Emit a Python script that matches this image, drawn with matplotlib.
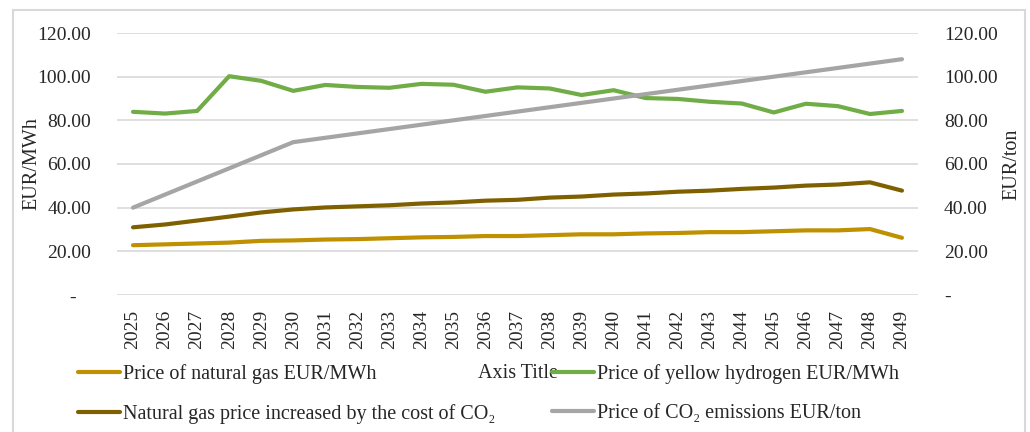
import matplotlib
matplotlib.use("Agg")
import matplotlib.pyplot as plt
from matplotlib.patches import Rectangle
import numpy as np

# --- data ---
years = [str(y) for y in range(2025, 2050)]

gas_price = [22.8, 23.2, 23.6, 24.0, 24.8, 25.0, 25.4, 25.6, 26.0, 26.4, 26.6, 27.0, 27.0,
             27.4, 27.8, 27.8, 28.2, 28.4, 28.8, 28.8, 29.2, 29.6, 29.6, 30.2, 26.2]
hydrogen_price = [83.9, 83.1, 84.3, 100.2, 98.1, 93.5, 96.2, 95.3, 94.9, 96.7, 96.3, 93.1, 95.1,
                  94.6, 91.6, 93.8, 90.2, 89.8, 88.5, 87.7, 83.6, 87.6, 86.5, 82.9, 84.3]
gas_with_co2 = [31.0, 32.3, 34.1, 35.9, 37.8, 39.2, 40.1, 40.6, 41.1, 41.9, 42.4, 43.2, 43.6,
                44.6, 45.1, 46.0, 46.5, 47.3, 47.8, 48.6, 49.2, 50.1, 50.6, 51.6, 47.8]
co2_price = [40, 46, 52, 58, 64, 70, 72, 74, 76, 78, 80, 82, 84,
             86, 88, 90, 92, 94, 96, 98, 100, 102, 104, 106, 108]

y_ticks = [0, 20, 40, 60, 80, 100, 120]
left_tick_labels = ["-   ", "20.00", "40.00", "60.00", "80.00", "100.00", "120.00"]
right_tick_labels = ["-", "20.00", "40.00", "60.00", "80.00", "100.00", "120.00"]

label_gas = "Price of natural gas EUR/MWh"
label_h2 = "Price of yellow hydrogen EUR/MWh"
label_gas_co2 = "Natural gas price increased by the cost of CO\u2082"
label_co2 = "Price of CO\u2082 emissions EUR/ton"

c_gas = "#BF9000"
c_h2 = "#70AD47"
c_gas_co2 = "#7F6000"
c_co2 = "#A5A5A5"
txt = "#262626"
grid_c = "#D9D9D9"

plt.rcParams['font.family'] = ['Liberation Serif', 'DejaVu Serif']
plt.rcParams['font.size'] = 14

fig = plt.figure(figsize=(10.3, 4.32), dpi=100)
W, H = 1030, 432
ax = fig.add_axes([117 / W, 1 - 295 / H, (918 - 117) / W, (295 - 33) / H])
ax2 = ax.twinx()

x = np.arange(len(years))
lw = 3.0
ax.plot(x, gas_price, color=c_gas, lw=lw, solid_capstyle='round', label=label_gas)
ax.plot(x, hydrogen_price, color=c_h2, lw=lw, solid_capstyle='round', label=label_h2)
ax.plot(x, gas_with_co2, color=c_gas_co2, lw=lw, solid_capstyle='round', label=label_gas_co2)
ax2.plot(x, co2_price, color=c_co2, lw=lw, solid_capstyle='round', label=label_co2)

for a in (ax, ax2):
    a.set_xlim(-0.5, len(years) - 0.5)
    a.set_ylim(0, 120)
    for s in a.spines.values():
        s.set_visible(False)
    a.tick_params(length=0, colors=txt)

ax.set_yticks(y_ticks)
ax.set_yticklabels(left_tick_labels)
ax2.set_yticks(y_ticks)
ax2.set_yticklabels(right_tick_labels)
ax.tick_params(axis='y', pad=18.7)
ax2.tick_params(axis='y', pad=18.7)
ax.grid(axis='y', color=grid_c, lw=1.2)
ax.set_axisbelow(True)

ax.set_xticks(x)
ax.set_xticklabels(years, rotation=90)
ax.tick_params(axis='x', pad=10.5)

ax.set_ylabel("EUR/MWh", color=txt, fontsize=14.5)
ax.yaxis.set_label_coords(-0.094, 0.5)
ax2.set_ylabel("EUR/ton", color=txt, fontsize=14.5)
ax2.yaxis.set_label_coords(1.105, 0.5)

ax.set_xlabel("Axis Title", color=txt, fontsize=14.5)
ax.xaxis.set_label_coords(0.5, -0.262)

# legend: two columns placed like the reference
h = ax.get_lines() + ax2.get_lines()
leg_kw = dict(frameon=False, handlelength=2.1, handletextpad=0.15, labelspacing=1.0,
              borderpad=0, borderaxespad=0, labelcolor=txt, fontsize=14.5)
leg1 = fig.legend([h[0], h[2]], [label_gas, label_gas_co2], loc='upper left',
                  bbox_to_anchor=(78 / W, 1 - 364 / H), **leg_kw)
leg2 = fig.legend([h[1], h[3]], [label_h2, label_co2], loc='upper left',
                  bbox_to_anchor=(552 / W, 1 - 364 / H), **leg_kw)

# outer chart border
fig.patches.append(Rectangle((13 / W, -0.05), (1025 - 13) / W, 1.05 - 10 / H,
                             transform=fig.transFigure, fill=False,
                             edgecolor=grid_c, lw=1.5))

fig.savefig("out.png", dpi=100)
